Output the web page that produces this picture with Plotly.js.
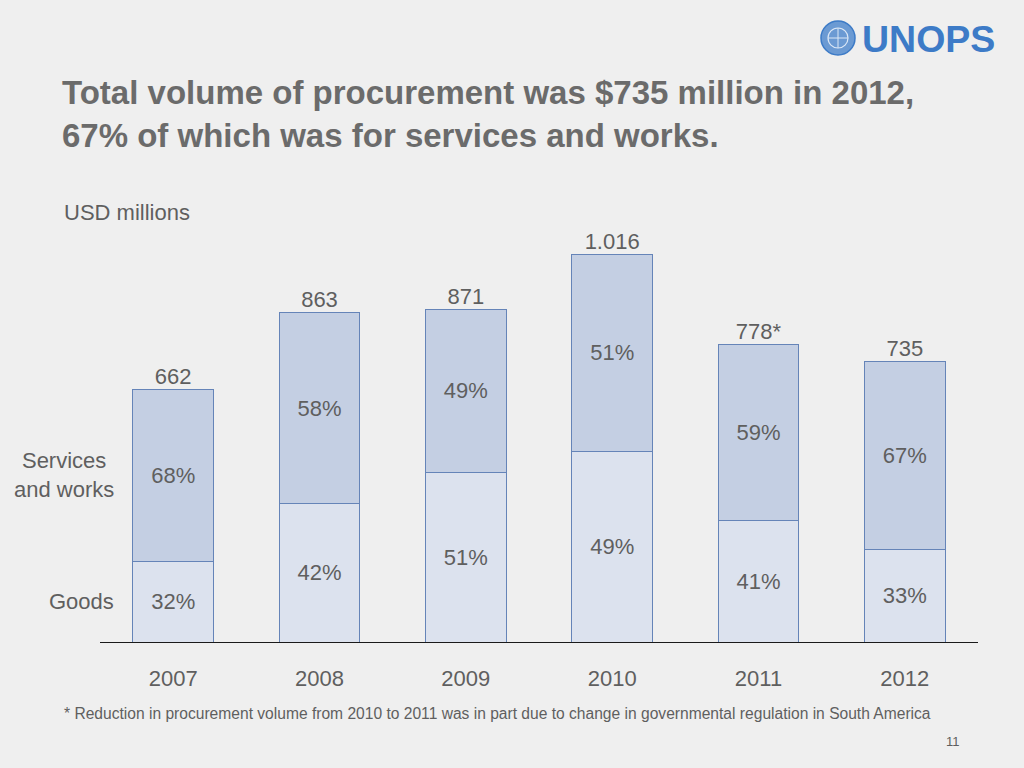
<!DOCTYPE html>
<html>
<head>
<meta charset="utf-8">
<script src="https://cdn.plot.ly/plotly-3.0.1.min.js"></script>
<style>
  html, body { margin: 0; padding: 0; background: #efefef; }
  #chart { width: 1024px; height: 768px; }
</style>
</head>
<body>
<div id="chart"></div>
<script>
// ---- Data ----
var years = ['2007', '2008', '2009', '2010', '2011', '2012'];
var totals = [662, 863, 871, 1016, 778, 735];
var totalLabels = ['662', '863', '871', '1.016', '778*', '735'];
var goodsPct = [32, 42, 51, 49, 41, 33];
var servicesPct = [68, 58, 49, 51, 59, 67];

// derived segment values
var goodsVals = totals.map(function (t, i) { return t * goodsPct[i] / 100; });
var servicesVals = totals.map(function (t, i) { return t * servicesPct[i] / 100; });

var textColor = '#5f5f5f';
var fontFam = 'Liberation Sans, Arial, sans-serif';
var fs = 22;

// plot area: x 100..978, y 230..642
var L = 100, R = 978, T = 230, B = 642;
function px(x) { return (x - L) / (R - L); }
function py(y) { return (B - y) / (B - T); }

var barLine = { color: '#6584b8', width: 1 };

var traces = [
  {
    type: 'bar', name: 'Goods', x: years, y: goodsVals,
    text: goodsPct.map(function (p) { return p + '%'; }),
    textposition: 'inside', insidetextanchor: 'middle',
    textfont: { family: fontFam, size: fs, color: textColor },
    marker: { color: '#dce2ee', line: barLine },
    width: 0.553, hoverinfo: 'skip'
  },
  {
    type: 'bar', name: 'Services and works', x: years, y: servicesVals,
    text: servicesPct.map(function (p) { return p + '%'; }),
    textposition: 'inside', insidetextanchor: 'middle',
    textfont: { family: fontFam, size: fs, color: textColor },
    marker: { color: '#c4cfe3', line: barLine },
    width: 0.553, hoverinfo: 'skip'
  },
  {
    type: 'scatter', mode: 'text', name: 'Total', x: years, y: totals,
    text: totalLabels, textposition: 'top center',
    textfont: { family: fontFam, size: fs, color: textColor },
    hoverinfo: 'skip', cliponaxis: false
  }
];

var annotations = [];

// series labels on the left
annotations.push({
  x: px(116), y: goodsVals[0] + servicesVals[0] / 2, xref: 'paper', yref: 'y',
  text: 'Services<br>and works', showarrow: false, xanchor: 'right', align: 'center',
  font: { family: fontFam, size: fs, color: textColor }
});
annotations.push({
  x: px(116), y: goodsVals[0] / 2, xref: 'paper', yref: 'y',
  text: 'Goods', showarrow: false, xanchor: 'right', align: 'center',
  font: { family: fontFam, size: fs, color: textColor }
});

// unit label
annotations.push({
  x: px(62), y: py(212), xref: 'paper', yref: 'paper',
  text: 'USD millions', showarrow: false, xanchor: 'left', yanchor: 'middle',
  font: { family: fontFam, size: fs, color: textColor }
});

// footnote
annotations.push({
  x: px(62), y: py(713), xref: 'paper', yref: 'paper',
  text: '* Reduction in procurement volume from 2010 to 2011 was in part due to change in governmental regulation in South America',
  showarrow: false, xanchor: 'left', yanchor: 'middle',
  font: { family: fontFam, size: 15.6, color: textColor }
});

// page number
annotations.push({
  x: px(953), y: py(741), xref: 'paper', yref: 'paper',
  text: '11', showarrow: false, xanchor: 'center', yanchor: 'middle',
  font: { family: fontFam, size: 13, color: textColor }
});

// logo text
annotations.push({
  x: px(860), y: py(39), xref: 'paper', yref: 'paper',
  text: '<b>UNOPS</b>', showarrow: false, xanchor: 'left', yanchor: 'middle',
  font: { family: fontFam, size: 37.5, color: '#3d7bc7' }
});

var shapes = [
  { type: 'circle', xref: 'paper', yref: 'paper',
    x0: px(821), x1: px(855), y0: py(55), y1: py(21),
    fillcolor: '#6b9ad3', line: { color: '#3d7bc7', width: 1.5 } },
  { type: 'circle', xref: 'paper', yref: 'paper',
    x0: px(828), x1: px(848), y0: py(48), y1: py(28),
    fillcolor: 'rgba(0,0,0,0)', line: { color: '#dbe7f6', width: 1.2 } },
  { type: 'line', xref: 'paper', yref: 'paper',
    x0: px(838), x1: px(838), y0: py(48), y1: py(28),
    line: { color: '#dbe7f6', width: 1 } },
  { type: 'line', xref: 'paper', yref: 'paper',
    x0: px(828), x1: px(848), y0: py(38), y1: py(38),
    line: { color: '#dbe7f6', width: 1 } }
];

var layout = {
  width: 1024, height: 768,
  paper_bgcolor: '#efefef', plot_bgcolor: 'rgba(0,0,0,0)',
  margin: { l: L, r: 1024 - R, t: T, b: 768 - B, pad: 0 },
  barmode: 'stack',
  showlegend: false,
  title: {
    text: '<b>Total volume of procurement was $735 million in 2012,<br>67% of which was for services and works.</b>',
    x: 62 / 1024, xanchor: 'left', xref: 'container',
    y: 1 - 104 / 768, yanchor: 'top', yref: 'container',
    font: { family: fontFam, size: 33, color: '#6b6b6b' }
  },
  xaxis: {
    type: 'category', range: [-0.5, 5.5],
    showline: true, linecolor: '#1a1a1a', linewidth: 1.3,
    ticks: '', showgrid: false, zeroline: false,
    ticklabelstandoff: 16,
    tickfont: { family: fontFam, size: fs, color: textColor },
    fixedrange: true
  },
  yaxis: {
    range: [0, 1079], visible: false, showgrid: false, zeroline: false,
    fixedrange: true
  },
  annotations: annotations,
  shapes: shapes
};

Plotly.newPlot('chart', traces, layout, { displayModeBar: false, staticPlot: true });
</script>
</body>
</html>
